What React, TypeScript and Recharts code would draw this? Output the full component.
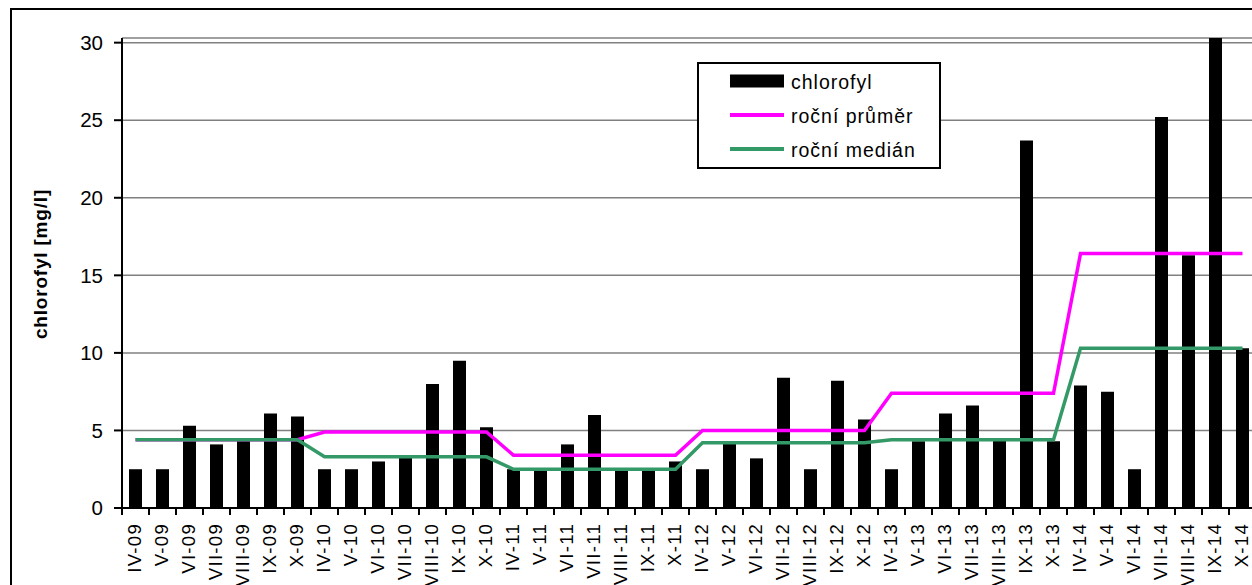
import React from "react";
import {
  ComposedChart, Bar, Line, XAxis, YAxis, CartesianGrid, Legend, Label,
} from "recharts";

const categories = [
  "IV-09", "V-09", "VI-09", "VII-09", "VIII-09", "IX-09", "X-09",
  "IV-10", "V-10", "VI-10", "VII-10", "VIII-10", "IX-10", "X-10",
  "IV-11", "V-11", "VI-11", "VII-11", "VIII-11", "IX-11", "X-11",
  "IV-12", "V-12", "VI-12", "VII-12", "VIII-12", "IX-12", "X-12",
  "IV-13", "V-13", "VI-13", "VII-13", "VIII-13", "IX-13", "X-13",
  "IV-14", "V-14", "VI-14", "VII-14", "VIII-14", "IX-14", "X-14",
];

const chlorofyl = [
  2.5, 2.5, 5.3, 4.1, 4.4, 6.1, 5.9,
  2.5, 2.5, 3.0, 3.3, 8.0, 9.5, 5.2,
  2.5, 2.5, 4.1, 6.0, 2.5, 2.5, 3.0,
  2.5, 4.2, 3.2, 8.4, 2.5, 8.2, 5.7,
  2.5, 4.3, 6.1, 6.6, 4.4, 23.7, 4.3,
  7.9, 7.5, 2.5, 25.2, 16.3, 30.3, 10.3,
];

// one value per year 2009..2014
const years = ["09", "10", "11", "12", "13", "14"];
const yearMean = [4.4, 4.9, 3.4, 5.0, 7.4, 16.4];
const yearMedian = [4.4, 3.3, 2.5, 4.2, 4.4, 10.3];

const yTicks = [0, 5, 10, 15, 20, 25, 30];
const legendOrder = ["chlorofyl", "roční průměr", "roční medián"];

const data = categories.map((c, i) => {
  const y = years.indexOf(c.split("-")[1]);
  return { name: c, chlorofyl: chlorofyl[i], prumer: yearMean[y], median: yearMedian[y] };
});

const FONT = "'Liberation Sans', Arial, sans-serif";
const CHART_W = 1264;
const CHART_H = 585;
const MARGIN = { top: 38, right: 8, bottom: 0, left: 0 };
const Y_W = 122;
const X_H = 77;
const PLOT_W = CHART_W - MARGIN.left - MARGIN.right - Y_W;
const PLOT_BOTTOM = CHART_H - MARGIN.bottom - X_H;
const BAND = PLOT_W / categories.length;

const XTick = ({ x, payload }: any) => (
  <g>
    <line x1={x - BAND / 2} x2={x - BAND / 2} y1={PLOT_BOTTOM} y2={PLOT_BOTTOM + 7} stroke="#000" strokeWidth={2} />
    <text
      transform={`translate(${x + 5},${PLOT_BOTTOM + 15}) rotate(-90)`}
      textAnchor="end"
      fontSize={18.5}
      letterSpacing={1.3}
      fill="#000"
      fontFamily={FONT}
    >
      {payload.value}
    </text>
  </g>
);

const LegendBox = ({ payload }: any) => {
  const rows = [...(payload || [])].sort(
    (a: any, b: any) => legendOrder.indexOf(a.value) - legendOrder.indexOf(b.value)
  );
  return (
    <svg width={244} height={107} style={{ display: "block" }}>
      <rect x={1} y={1} width={242} height={105} fill="#fff" stroke="#000" strokeWidth={2} />
      {rows.map((e: any, i: number) => {
        const cy = 19 + i * 34;
        return (
          <g key={e.value}>
            {e.type === "rect" ? (
              <rect x={33} y={cy - 6.5} width={54} height={13} fill="#000" />
            ) : (
              <line x1={33} x2={87} y1={cy} y2={cy} stroke={e.color} strokeWidth={4} />
            )}
            <text x={94} y={cy + 8} fontSize={19.5} letterSpacing={1} fill="#000" fontFamily={FONT}>
              {e.value}
            </text>
          </g>
        );
      })}
    </svg>
  );
};

export default function App() {
  return (
    <div style={{ position: "absolute", left: 0, top: 0, width: 1252, height: 585, overflow: "hidden", background: "#fff" }}>
      <div
        style={{
          position: "absolute", left: 10, top: 8, width: 1400, height: 800,
          borderLeft: "2px solid #000", borderTop: "2px solid #000",
        }}
      />
      <div style={{ position: "absolute", left: 0, top: 0 }}>
        <ComposedChart width={CHART_W} height={CHART_H} data={data} margin={MARGIN} style={{ fontFamily: FONT }}>
          <CartesianGrid vertical={false} stroke="#808080" strokeWidth={1.5} />
          <XAxis
            dataKey="name"
            height={X_H}
            interval={0}
            tick={<XTick />}
            tickLine={false}
            axisLine={{ stroke: "#000", strokeWidth: 2 }}
          />
          <YAxis
            width={Y_W}
            domain={[0, 30]}
            ticks={yTicks}
            interval={0}
            tickSize={8}
            tickMargin={11}
            tick={{ fill: "#000", fontSize: 20.5, fontFamily: FONT }}
            tickLine={{ stroke: "#000", strokeWidth: 2 }}
            axisLine={{ stroke: "#000", strokeWidth: 2 }}
          >
            <Label
              content={() => (
                <text
                  transform="translate(47,264) rotate(-90)"
                  textAnchor="middle"
                  fontSize={19}
                  fontWeight="bold"
                  letterSpacing={0.8}
                  fill="#000"
                  fontFamily={FONT}
                >
                  chlorofyl [mg/l]
                </text>
              )}
            />
          </YAxis>
          <Legend
            layout="vertical"
            align="center"
            verticalAlign="middle"
            itemSorter={null}
            content={<LegendBox />}
            wrapperStyle={{ left: 697, top: 62, width: 244, height: 107 }}
          />
          <Bar dataKey="chlorofyl" name="chlorofyl" fill="#000" barSize={13} isAnimationActive={false} />
          <Line
            type="linear"
            dataKey="prumer"
            name="roční průměr"
            stroke="#FF00FF"
            strokeWidth={3.5}
            dot={false}
            activeDot={false}
            isAnimationActive={false}
          />
          <Line
            type="linear"
            dataKey="median"
            name="roční medián"
            stroke="#339966"
            strokeWidth={3.5}
            dot={false}
            activeDot={false}
            isAnimationActive={false}
          />
        </ComposedChart>
      </div>
    </div>
  );
}
